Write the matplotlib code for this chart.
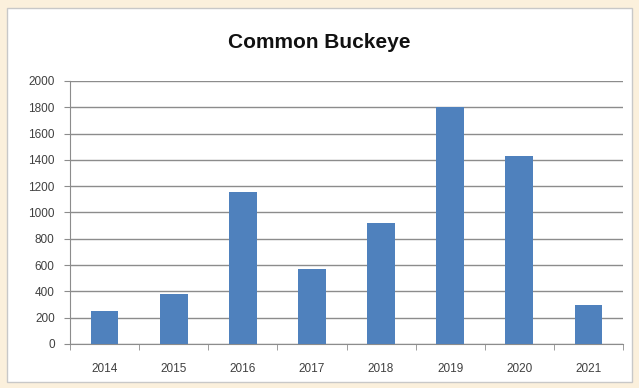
import matplotlib
matplotlib.use("Agg")
import matplotlib.pyplot as plt
from matplotlib.patches import Rectangle

# data
years = ["2014", "2015", "2016", "2017", "2018", "2019", "2020", "2021"]
counts = [252, 378, 1155, 568, 920, 1805, 1428, 296]
yticks = [0, 200, 400, 600, 800, 1000, 1200, 1400, 1600, 1800, 2000]

plt.rcParams['font.family'] = ['Liberation Sans', 'DejaVu Sans']

fig = plt.figure(figsize=(6.39, 3.88), dpi=100)
fig.patch.set_facecolor("#fbf0dc")
# white chart area with thin grey border
fig.patches.append(Rectangle((7/639, 6/388), 625/639, 374/388, transform=fig.transFigure,
                             facecolor="white", edgecolor="#c8c8c8", linewidth=1, zorder=-1))

ax = fig.add_axes([70/639, 44/388, 553/639, 263/388])
ax.set_zorder(2)
ax.set_facecolor("white")
x = list(range(len(years)))
ax.bar(x, counts, width=0.4, color="#4f81bd", zorder=3)

ax.set_xlim(-0.5, len(years) - 0.5)
ax.set_ylim(0, 2000)
ax.set_yticks(yticks)
ax.yaxis.grid(True, color="#8c8c8c", linewidth=1)
ax.set_xticks(x)
ax.set_xticklabels(years)
ax.set_xticks([i + 0.5 for i in range(-1, len(years))], minor=True)
ax.tick_params(axis='x', which='major', length=0, pad=14, labelsize=8.5, colors="#404040")
ax.tick_params(axis='x', which='minor', length=4, color="#8c8c8c", direction='out')
ax.tick_params(axis='y', length=4, color="#8c8c8c", pad=7, labelsize=8.5, labelcolor="#404040")
for s in ["top", "right"]:
    ax.spines[s].set_visible(False)
for s in ["left", "bottom"]:
    ax.spines[s].set_color("#8c8c8c")

fig.text(0.5, 345/388, "Common Buckeye", ha='center', va='center',
         fontsize=15, fontweight='bold', color="#111111")

fig.savefig("out.png", dpi=100, facecolor=fig.get_facecolor())
